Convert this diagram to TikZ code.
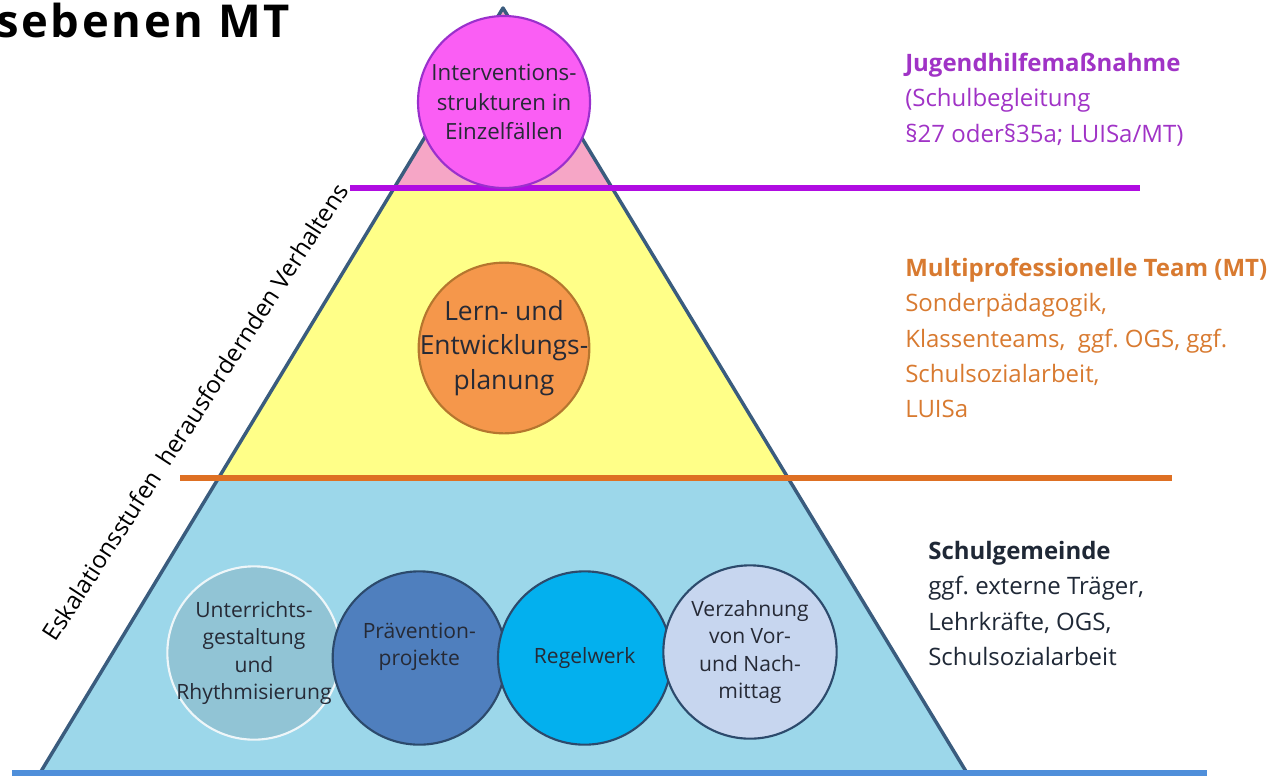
\documentclass[tikz,border=0pt]{standalone}
\usepackage{fontspec}
\setmainfont{Open Sans}
\usetikzlibrary{positioning}
\frenchspacing

\definecolor{pinktop}{HTML}{F6A6C6}
\definecolor{yellowmid}{HTML}{FFFF88}
\definecolor{bluebot}{HTML}{9CD7EA}
\definecolor{edgeblue}{HTML}{3A5C7E}
\definecolor{magline}{HTML}{B00CE2}
\definecolor{orline}{HTML}{DE7023}
\definecolor{baseblue}{HTML}{4F8FDA}
\definecolor{magfill}{HTML}{FA5EF4}
\definecolor{magdraw}{HTML}{9A30CC}
\definecolor{orfill}{HTML}{F5974B}
\definecolor{ordraw}{HTML}{B5762E}
\definecolor{tealfill}{HTML}{91C4D5}
\definecolor{steelfill}{HTML}{4F7FBE}
\definecolor{cyanfill}{HTML}{03B0EE}
\definecolor{lavfill}{HTML}{C7D6EF}
\definecolor{circdraw}{HTML}{2C4A6C}
\definecolor{purpletext}{HTML}{A033C6}
\definecolor{orangetext}{HTML}{D87A30}
\definecolor{darktext}{HTML}{1F2836}
\definecolor{intext}{HTML}{262A36}

\begin{document}
\begin{tikzpicture}[x=0.75pt,y=-0.75pt,node distance={124pt},
    main/.style={draw, circle, minimum size=130pt, inner sep=-40pt, align=center, line width=1.6pt, text=intext, font=\fontsize{15.8}{20.5}\selectfont},
    level/.style={line width=3.8pt},
    side/.style={anchor=north west, align=left, inner sep=0pt, font=\fontsize{18}{26.5}\selectfont}]
    \useasboundingbox (0,0) rectangle (1276,775);

    % pyramid
    \coordinate (a) at (503,8);
    \coordinate (b) at (40,773);
    \coordinate (c) at (967,773);
    \begin{scope}
        \clip (a) -- (b) -- (c) -- cycle;
        \fill[pinktop] (0,0) rectangle (1276,188);
        \fill[yellowmid] (0,188) rectangle (1276,478);
        \fill[bluebot] (0,478) rectangle (1276,775);
    \end{scope}
    \draw[edgeblue, line width=2.6pt, line join=round] (a) -- (b) -- (c) -- cycle;

    % levels
    \coordinate (m1) at (350,188);
    \coordinate (m2) at (1140,188);
    \coordinate (o1) at (180,478);
    \coordinate (o2) at (1172,478);
    \coordinate (u1) at (12,773);
    \coordinate (u2) at (1207,773);
    \draw[level, magline] (m1) -- (m2);
    \draw[level, orline] (o1) -- (o2);
    \draw[level, baseblue] (u1) -- (u2);

	\node[main, fill=magfill, draw=magdraw, minimum size=129pt, font=\fontsize{16.7}{22}\selectfont] (1) at (504,102) {Interventions-\\strukturen in\\Einzelfällen};
    \node[main, fill=orfill, draw=ordraw, minimum size=128pt, font=\fontsize{19.8}{26}\selectfont] (2) [below of=1, node distance=184.5pt] {Lern- und\\Entwicklungs-\\planung};

    \node[main, fill=tealfill, draw=white!85!tealfill] (3) at (254,653) {Unterrichts-\\gestaltung\\und\\Rhythmisierung};
    \node[main, fill=steelfill, draw=circdraw] (4) [right of=3, yshift=-3.75pt] {Prävention-\\projekte\\\mbox{}};
    \node[main, fill=cyanfill, draw=circdraw] (5) [right of=4] {Regelwerk};
    \node[main, fill=lavfill, draw=circdraw] (6) [right of=5, yshift=4.5pt] {Verzahnung\\von Vor-\\und Nach-\\mittag};

    \node[rotate=57, font=\fontsize{18}{22}\selectfont] (7) at (195,412) {Eskalationsstufen\ \ herausfordernden Verhaltens};

    \node[anchor=base west, inner sep=0pt, font=\fontsize{34}{40}\bfseries\addfontfeature{LetterSpace=6}] (8) at (-4,37) {sebenen MT};

    \node[side, text=purpletext] (9) at (905,53) {\textbf{Jugendhilfemaßnahme}\\(Schulbegleitung\\§27 oder§35a; LUISa/MT)};
    \node[side, text=orangetext] (10) at (905,258) {\textbf{Multiprofessionelle Team (MT)}\\Sonderpädagogik,\\Klassenteams,\ \ ggf. OGS, ggf.\\Schulsozialarbeit,\\LUISa};
    \node[side, text=darktext] (11) at (928,541) {\textbf{Schulgemeinde}\\ggf. externe Träger,\\Lehrkräfte, OGS,\\Schulsozialarbeit};
\end{tikzpicture}
\end{document}
